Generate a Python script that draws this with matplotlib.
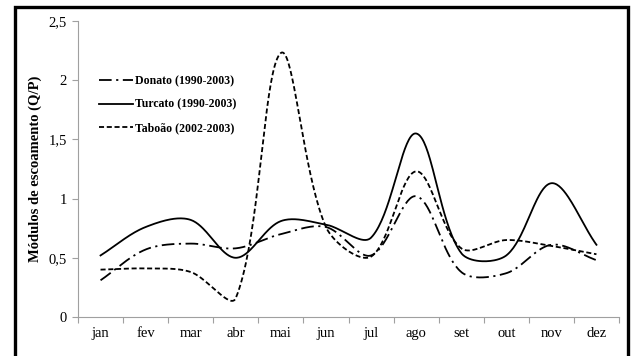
import numpy as np
import matplotlib
matplotlib.use("Agg")
import matplotlib.pyplot as plt
from matplotlib.patches import Rectangle

months = ["jan", "fev", "mar", "abr", "mai", "jun", "jul", "ago", "set", "out", "nov", "dez"]
donato = [0.31, 0.57, 0.62, 0.58, 0.70, 0.76, 0.52, 1.02, 0.38, 0.37, 0.61, 0.48]
turcato = [0.52, 0.76, 0.82, 0.50, 0.81, 0.78, 0.67, 1.55, 0.54, 0.52, 1.13, 0.61]
taboao = [0.40, 0.41, 0.38, 0.16, 2.23, 0.76, 0.51, 1.23, 0.58, 0.65, 0.60, 0.53]
yticks = [0, 0.5, 1, 1.5, 2, 2.5]
ytick_labels = ["0", "0,5", "1", "1,5", "2", "2,5"]

XS, YS = 45.08, 118.4  # approximate pixels per data unit (for screen-space smoothing)


def smooth(x, y, n=40, t=1 / 3):
    # Excel-like smoothed line: cubic Bezier with control points scaled by segment lengths
    P = np.column_stack([np.asarray(x, float) * XS, np.asarray(y, float) * YS])
    m = len(P)
    cin = np.zeros_like(P)
    cout = np.zeros_like(P)
    for i in range(m):
        p0 = P[max(i - 1, 0)]
        p2 = P[min(i + 1, m - 1)]
        p1 = P[i]
        d01 = np.hypot(*(p1 - p0))
        d12 = np.hypot(*(p2 - p1))
        tot = d01 + d12
        if tot == 0:
            cin[i] = cout[i] = p1
            continue
        cin[i] = p1 - t * d01 / tot * (p2 - p0)
        cout[i] = p1 + t * d12 / tot * (p2 - p0)
    s = np.linspace(0, 1, n)[:, None]
    pts = []
    for i in range(m - 1):
        a, b, c, d = P[i], cout[i], cin[i + 1], P[i + 1]
        seg = ((1 - s) ** 3) * a + 3 * ((1 - s) ** 2) * s * b + 3 * (1 - s) * s ** 2 * c + s ** 3 * d
        pts.append(seg)
    pts = np.vstack(pts)
    return pts[:, 0] / XS, pts[:, 1] / YS


fig = plt.figure(figsize=(6.32, 3.56), dpi=100)
ax = fig.add_axes([78 / 632, 1 - 317 / 356, (619 - 78) / 632, (317 - 21) / 356])

xpos = np.arange(len(months)) + 0.5
lw = 1.3
sx, sy = smooth(xpos, donato)
ax.plot(sx, sy, color="black", lw=lw, linestyle=(0, (7, 2.5, 1.2, 2.5)),
        label="Donato (1990-2003)")
sx, sy = smooth(xpos, turcato)
ax.plot(sx, sy, color="black", lw=lw, linestyle="-", label="Turcato (1990-2003)")
sx, sy = smooth(xpos, taboao)
ax.plot(sx, sy, color="black", lw=lw, linestyle=(0, (2.8, 1.5)),
        label="Taboão (2002-2003)")

ax.set_xlim(0, 12)
ax.set_ylim(0, 2.5)
ax.set_xticks(np.arange(13))
ax.set_xticklabels([])
ax.set_xticks(xpos, minor=True)
ax.set_xticklabels(months, minor=True, fontfamily="Liberation Serif", fontsize=10.5)
ax.tick_params(axis="x", which="minor", length=0, pad=7)
ax.tick_params(axis="x", which="major", length=4, color="#a0a0a0", width=0.8)
ax.set_yticks(yticks)
ax.set_yticklabels(ytick_labels, fontfamily="Liberation Serif", fontsize=10.5)
ax.tick_params(axis="y", length=4, color="#a0a0a0", width=0.8, pad=4)

for s in ("top", "right"):
    ax.spines[s].set_visible(False)
for s in ("left", "bottom"):
    ax.spines[s].set_color("#a0a0a0")
    ax.spines[s].set_linewidth(0.8)

ax.set_ylabel("Módulos de escoamento (Q/P)", fontfamily="Liberation Serif",
              fontweight="bold", fontsize=10.5)
ax.yaxis.set_label_coords(-0.067, 0.5)

leg = ax.legend(loc="upper left", bbox_to_anchor=(0.038, 0.818), frameon=False,
                prop={"family": "Liberation Serif", "weight": "bold", "size": 8.5},
                handlelength=2.9, handletextpad=0.2, labelspacing=1.0,
                borderpad=0, borderaxespad=0)

fig.patches.append(Rectangle((15 / 632, -0.1), (628 - 15) / 632, 1.1 - 7 / 356,
                             transform=fig.transFigure, fill=False,
                             edgecolor="black", linewidth=2.4))

fig.savefig("out.png", dpi=100)
